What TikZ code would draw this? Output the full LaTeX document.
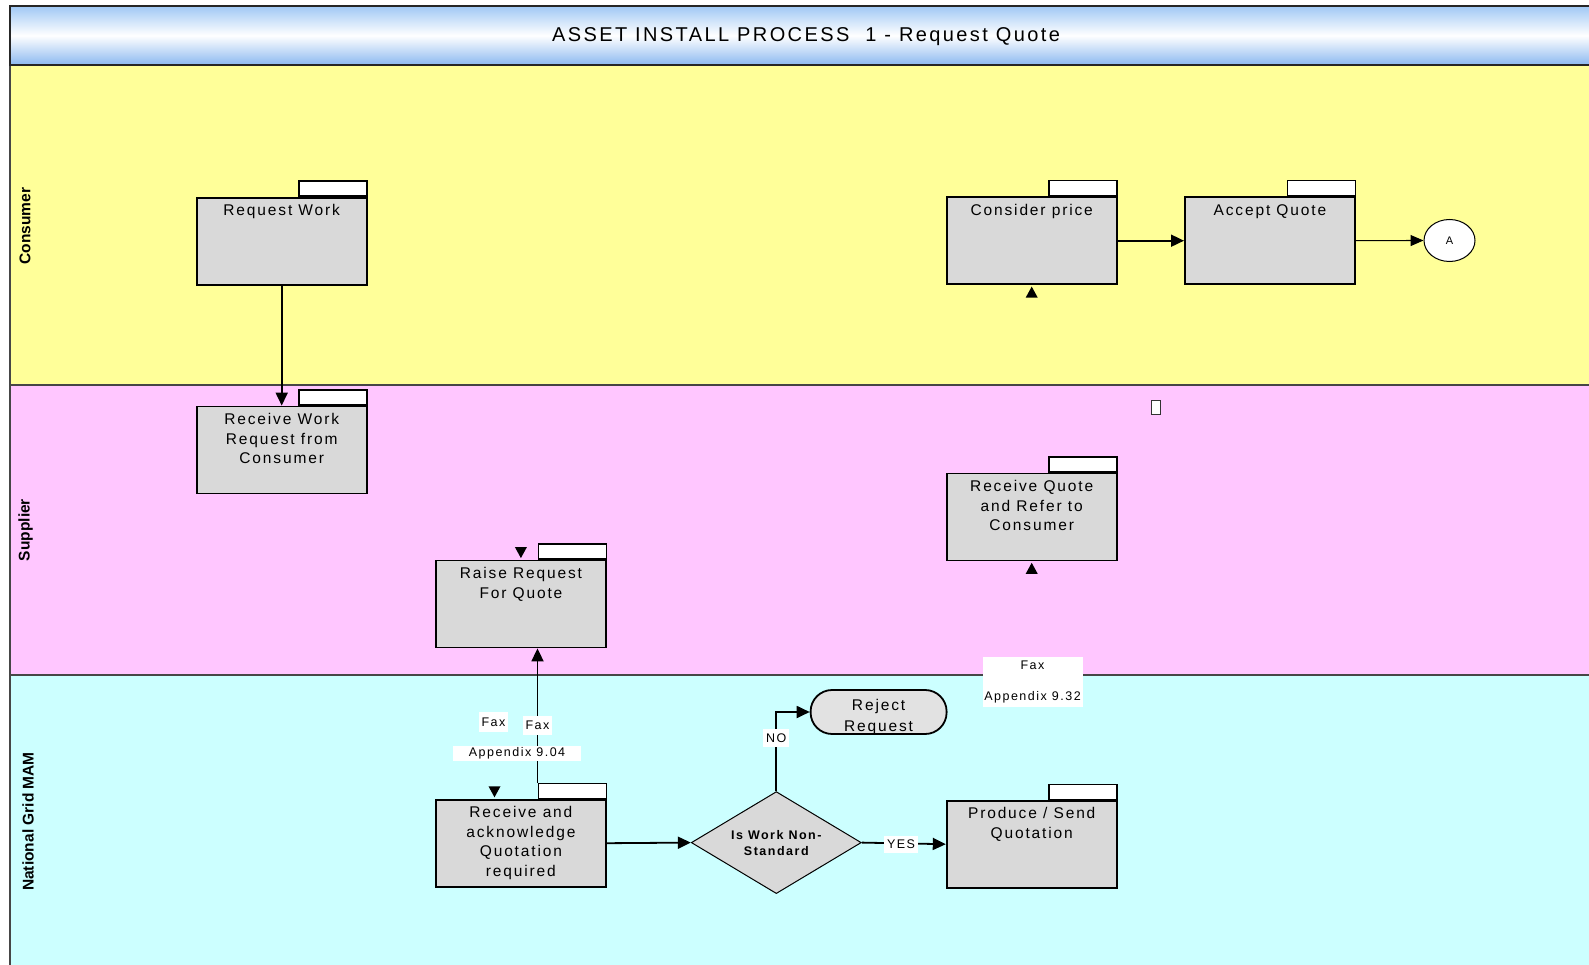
\documentclass[tikz,border=0pt]{standalone}
\usepackage{fontspec}
\setmainfont{Liberation Sans}
\newfontfamily\boxfont[LetterSpace=12]{Liberation Sans}
\newfontfamily\smallfont[LetterSpace=12]{Liberation Sans}
\newfontfamily\titlefont[LetterSpace=12]{Liberation Sans}
\usetikzlibrary{arrows.meta,shapes.geometric}
\definecolor{laneY}{RGB}{255,255,153}
\definecolor{laneP}{RGB}{255,198,255}
\definecolor{laneC}{RGB}{204,255,255}
\definecolor{boxgray}{RGB}{217,217,217}
\definecolor{rejgray}{RGB}{226,226,226}
\definecolor{lanegrid}{RGB}{70,70,70}
\definecolor{titleblueA}{RGB}{160,200,245}
\definecolor{titleblueB}{RGB}{140,185,240}
\newcommand\tasktext[1]{\parbox[t][87pt][t]{168pt}{\centering\boxfont\fontsize{15.5pt}{19.6pt}\selectfont\rule{0pt}{18pt}#1}}
\begin{document}
\begin{tikzpicture}[x=1pt,y=-1pt,
  task/.style={rectangle,draw=black,line width=1.8pt,fill=boxgray,minimum width=170pt,minimum height=87pt,inner sep=0pt},
  tab/.style={rectangle,draw=black,line width=1.3pt,fill=white,minimum width=68pt,minimum height=15pt,inner sep=0pt,anchor=south east},
  conn/.style={line width=1.8pt,-{Triangle[length=13pt,width=12pt]}},
  lbl/.style={fill=white,inner sep=0pt,font=\smallfont\fontsize{12.5pt}{15pt}\selectfont},
  lanelbl/.style={rotate=90,font=\bfseries\fontsize{15.5pt}{18pt}\selectfont,inner sep=0pt},
  marker/.style={fill=black}
]
\useasboundingbox (0,0) rectangle (1589,965);
\fill[white] (0,0) rectangle (1589,965);
% lanes
\fill[laneY] (10,65) rectangle (1589,385);
\fill[laneP] (10,385) rectangle (1589,675);
\fill[laneC] (10,675) rectangle (1589,965);
\draw[lanegrid,line width=1.3pt] (10,385) -- (1589,385);
\draw[lanegrid,line width=1.3pt] (10,675) -- (1589,675);
\draw[lanegrid,line width=1.3pt] (10,65) -- (10,965);
% title bar
\shade[top color=titleblueA,bottom color=titleblueB,middle color=white] (10,6) rectangle (1589,65);
\draw[black!85,line width=2pt] (1589,6) -- (10,6) -- (10,65) -- (1589,65);
\node[font=\titlefont\fontsize{20pt}{24pt}\selectfont,inner sep=0pt] (title) at (806,36.5) {ASSET INSTALL PROCESS\ \ 1 - Request Quote};
% lane labels
\node[lanelbl] (lcons) at (25,226) {Consumer};
\node[lanelbl] (lsupp) at (25.5,530) {Supplier};
\node[lanelbl] (lngm) at (28,821.5) {National Grid MAM};
% tasks
\node[task] (rw) at (281.7,241.2) {\tasktext{Request Work}};
\node[tab] (rwtab) at (rw.north east) {};
\node[task] (rwr) at (281.7,450) {\tasktext{Receive Work\\Request from\\Consumer}};
\node[tab] (rwrtab) at (rwr.north east) {};
\node[task] (cp) at (1031.7,240.7) {\tasktext{Consider price}};
\node[tab] (cptab) at (cp.north east) {};
\node[task] (aq) at (1269.9,240.7) {\tasktext{Accept Quote}};
\node[tab] (aqtab) at (aq.north east) {};
\node[task] (rq) at (1031.7,516.9) {\tasktext{Receive Quote\\and Refer to\\Consumer}};
\node[tab] (rqtab) at (rq.north east) {};
\node[task] (rrq) at (520.9,604) {\tasktext{Raise Request\\For Quote}};
\node[tab] (rrqtab) at (rrq.north east) {};
\node[task] (rack) at (520.9,843.2) {\tasktext{Receive and\\acknowledge\\Quotation\\required}};
\node[tab] (racktab) at (rack.north east) {};
\node[task] (ps) at (1031.7,844.2) {\tasktext{Produce / Send\\Quotation}};
\node[tab] (pstab) at (ps.north east) {};
% decision
\node[diamond,aspect=1.667,draw=black,line width=1pt,fill=boxgray,minimum width=170pt,minimum height=102pt,inner sep=0pt,align=center,font=\smallfont\bfseries\fontsize{12.5pt}{16pt}\selectfont] (dia) at (776.3,842.6) {Is Work Non-\\Standard};
% reject
\node[rectangle,rounded corners=21.5pt,draw=black,line width=1.8pt,fill=rejgray,minimum width=136pt,minimum height=44pt,inner sep=0pt] (rej) at (878.6,712) {};
\node[align=center,inner sep=0pt,font=\boxfont\fontsize{15.5pt}{20.3pt}\selectfont] (rejtxt) at (878.6,717) {Reject\\Request};
% connector A
\node[ellipse,draw=black,line width=1pt,fill=white,minimum width=51pt,minimum height=42pt,inner sep=0pt,font=\fontsize{11pt}{13pt}\selectfont] (A) at (1449.5,240.5) {A};
% small rectangle
\node[rectangle,draw=black!80,line width=0.9pt,fill=white,minimum width=9pt,minimum height=14pt,inner sep=0pt] (sq) at (1155.5,407) {};
% connectors
\draw[conn] (rw.south) -- (rwr.north);
\draw[conn] (cp.east) -- (aq.west);
\draw[line width=1.1pt,-{Triangle[length=13pt,width=11pt]}] (aq.east) -- (A.west);
\draw[conn] (racktab.north west) -- (racktab.north west |- rrq.south);
\draw[conn] (rack.east) -- (dia.west);
\draw[conn] (dia.east) -- (ps.west);
\draw[conn] (dia.north) |- (rej.west);
% loose arrowheads
\fill[marker] (cp.south) ++(0,1.5) -- ++(-6,11) -- ++(12,0) -- cycle;
\fill[marker] (rq.south) ++(0,1.5) -- ++(-6,11) -- ++(12,0) -- cycle;
\fill[marker] (rrq.north) ++(0,-1.5) -- ++(-6,-11) -- ++(12,0) -- cycle;
\fill[marker] ([xshift=-26.4pt]rack.north) ++(0,-1.5) -- ++(-6,-11) -- ++(12,0) -- cycle;
% labels
\node[lbl,minimum width=29pt,minimum height=20pt] (fax1) at (493.5,722) {Fax};
\node[lbl,minimum width=29pt,minimum height=19pt] (fax2) at (537.5,725) {Fax};
\node[lbl,minimum width=128pt,minimum height=15pt] (app1) at (517,753) {Appendix 9.04};
\node[lbl,minimum width=26pt,minimum height=18pt] (nolbl) at (776.3,738) {NO};
\node[lbl,minimum width=34pt,minimum height=17pt] (yeslbl) at (901,844.5) {YES};
\node[lbl,minimum width=100pt,minimum height=50pt,align=center,font=\smallfont\fontsize{12.5pt}{30.5pt}\selectfont] (fax3) at (1032.5,682) {Fax\\Appendix 9.32};
\end{tikzpicture}
\end{document}
